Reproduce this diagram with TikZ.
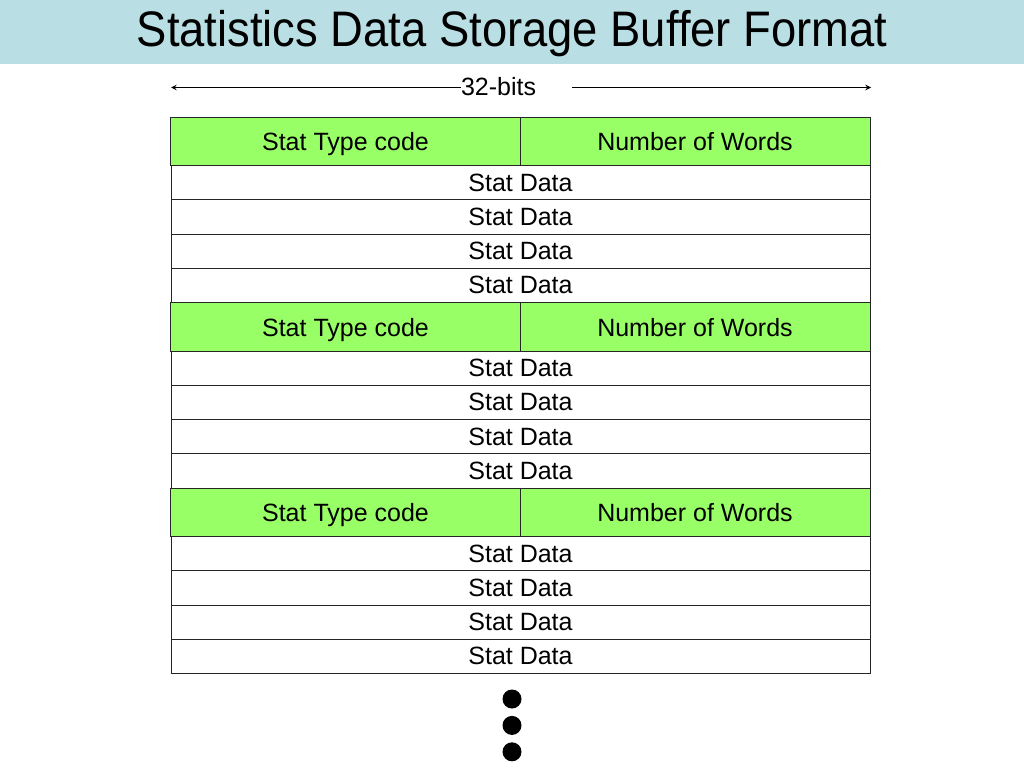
\documentclass[tikz,border=0pt]{standalone}
\usepackage{fontspec}
\setmainfont{Liberation Sans}
\usepackage{xcolor}
\usepackage{tikz}
\usetikzlibrary{arrows,positioning,calc}
\definecolor{titlebar}{RGB}{185,223,228}
\definecolor{hdrgreen}{RGB}{153,255,102}

\begin{document}
\begin{tikzpicture}[
			x=1pt, y=-1pt,
			cell/.style={rectangle, draw=black!85, line width=0.8pt, inner sep=0pt, text height=21pt, text depth=4pt, font=\fontsize{25}{30}\selectfont},
			hdr/.style={cell, fill=hdrgreen, minimum width=350pt, minimum height=48.5pt, text height=23pt},
			word/.style={cell, fill=white, minimum width=699pt, minimum height=34.25pt},
			dot/.style={circle, fill=black, minimum size=19pt, inner sep=0pt},
			span/.style={->, >=stealth, line width=1.5pt}
			]
			
			\useasboundingbox (0,0) rectangle (1024,768);
			
			% Title bar
			\fill[titlebar] (0,0) rectangle (1024,64);
			\node (title) at (512,34) {\scalebox{0.945}[1.04]{\fontsize{48}{56}\selectfont Statistics Data Storage Buffer Format}};
			
			% Word width
			\coordinate (lend) at (171,87.5);
			\coordinate (rend) at (871,87.5);
			\node[inner sep=0pt, text width=111pt, text height=19pt, text depth=4pt, align=left, font=\fontsize{25}{30}\selectfont] (bits) at (516.5,87.5) {32-bits};
			\draw[span] (bits.west) -- (lend);
			\draw[span] (bits.east) -- (rend);
			
			% Three records: header word + four data words
			\foreach \g in {0,1,2} {
				\pgfmathsetmacro{\top}{117+185.5*\g}
				\node[hdr] (th-\g) at (345.5,\top+24.25) {Stat Type code};
				\node[hdr] (nw-\g) at (695,\top+24.25) {Number of Words};
				\foreach \i in {1,...,4} {
					\node[word] (sd-\g-\i) at (520.5,\top+48.5+34.25*\i-17.125) {Stat Data};
				}
			}
			
			% More records follow
			\node[dot] (more1) at (512,699) {};
			\node[dot, below=7pt of more1] (more2) {};
			\node[dot, below=7pt of more2] (more3) {};
			
		\end{tikzpicture}
\end{document}
